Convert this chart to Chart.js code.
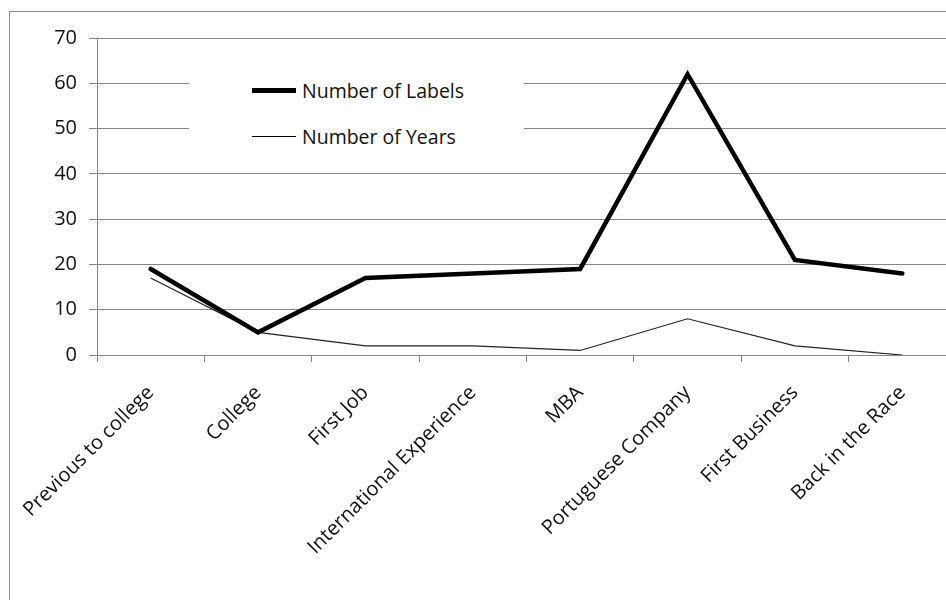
<!DOCTYPE html>
<html lang="en">
<head>
<meta charset="UTF-8">
<title>Number of Labels and Years</title>
<script src="https://cdn.jsdelivr.net/npm/chart.js"></script>
<style>
    html, body { margin: 0; padding: 0; background: #fff; overflow: hidden; width: 946px; height: 600px; }
    #frame { position: absolute; left: 9px; top: 11px; width: 1000px; height: 700px; border: 1px solid #8c8c8c; }
    #chart { position: absolute; left: 0; top: 0; }
    #legend { position: absolute; left: 189px; top: 50px; width: 335px; height: 115px; background: #fff;
              font-family: 'Open Sans', sans-serif; font-size: 19.5px; color: #111; }
    .item { position: absolute; left: 63px; display: flex; align-items: center; height: 24px; }
    .swatch { width: 44px; background: #000; margin-right: 6px; }
</style>
</head>
<body>
<div id="frame"></div>
<canvas id="chart" width="970" height="600"></canvas>
<div id="legend">
    <div class="item" style="top:28px"><span class="swatch" style="height:5px"></span>Number of Labels</div>
    <div class="item" style="top:74px"><span class="swatch" style="height:1px"></span>Number of Years</div>
</div>

<script>
    const categories = ['Previous to college', 'College', 'First Job', 'International Experience',
                        'MBA', 'Portuguese Company', 'First Business', 'Back in the Race'];
    const labelCounts = [19, 5, 17, 18, 19, 62, 21, 18];
    const yearCounts = [17, 5, 2, 2, 1, 8, 2, 0];
    const yMin = 0, yMax = 70, yStep = 10;

    const gridColor = '#868686';
    const tickFont = { family: 'Open Sans', size: 20 };

    new Chart(document.getElementById('chart'), {
        type: 'line',
        data: {
            labels: categories,
            datasets: [
                { label: 'Number of Labels', data: labelCounts, borderColor: '#000', borderWidth: 4.5,
                  pointRadius: 0, tension: 0, borderJoinStyle: 'miter', borderCapStyle: 'round' },
                { label: 'Number of Years', data: yearCounts, borderColor: '#222', borderWidth: 1.2,
                  pointRadius: 0, tension: 0 }
            ]
        },
        options: {
            responsive: false,
            animation: false,
            layout: { padding: { top: 38, right: 14, left: 0, bottom: 0 } },
            plugins: { legend: { display: false }, tooltip: { enabled: false } },
            scales: {
                x: {
                    offset: true,
                    grid: { offset: true, drawOnChartArea: false, tickLength: 7, color: gridColor },
                    border: { color: gridColor },
                    ticks: { minRotation: 45, maxRotation: 45, autoSkip: false, padding: 19, color: '#111', font: tickFont },
                    afterFit: s => { s.height = 245; }
                },
                y: {
                    min: yMin, max: yMax,
                    grid: { color: gridColor, tickLength: 8 },
                    border: { color: gridColor },
                    ticks: { stepSize: yStep, padding: 12, color: '#111', font: tickFont },
                    afterFit: s => { s.width = 97; }
                }
            }
        }
    });
</script>
</body>
</html>
